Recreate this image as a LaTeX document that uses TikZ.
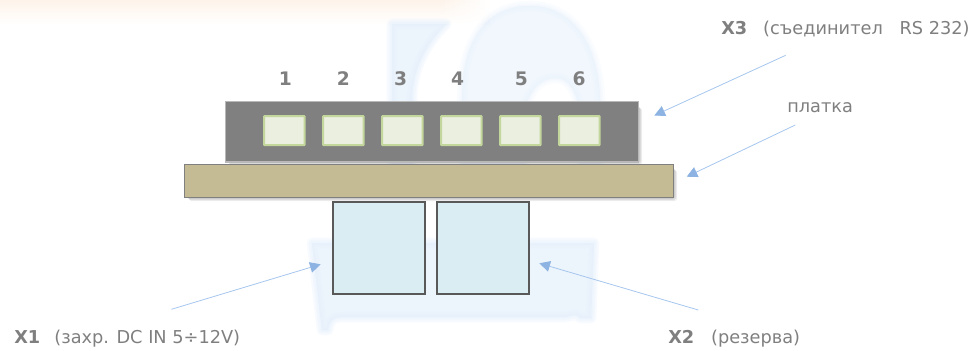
\documentclass[tikz,border=0pt]{standalone}
\usepackage{fontspec}
\setmainfont{DejaVu Sans}
\usetikzlibrary{arrows.meta,calc}
\definecolor{txt}{HTML}{7F7F7F}
\definecolor{pale}{HTML}{E6F0FB}
\definecolor{peach}{HTML}{FDF3EA}
\definecolor{arrowc}{HTML}{A6C6EE}
\definecolor{arrowh}{HTML}{8DB3E2}
\definecolor{pinb}{HTML}{C3D69B}
\definecolor{pinf}{HTML}{EBEFE0}
\definecolor{connb}{HTML}{595959}
\definecolor{connf}{HTML}{DAEDF3}
\definecolor{boardc}{HTML}{C4BB94}
\tikzset{
  x=0.75pt,y=-0.75pt,
  lbl/.style={font=\fontsize{13.3pt}{16pt}\selectfont,text=txt,inner sep=0pt,anchor=base west},
  num/.style={font=\bfseries\fontsize{14pt}{16pt}\selectfont,text=txt,inner sep=0pt,anchor=base},
  arrowline/.style={draw=arrowc,line width=0.6pt,-{Triangle[length=8pt,width=8pt,fill=arrowh,color=arrowh]}},
  wm/.style={fill=pale,draw=pale,opacity=0.3,line join=round},
  pin/.style={draw=pinb,fill=pinf,line width=1.6pt,minimum width=30.4pt,minimum height=21.8pt,inner sep=0pt,rounded corners=0.5pt,anchor=north west},
  conn/.style={draw=connb,fill=connf,line width=1.6pt,minimum width=69pt,minimum height=69pt,inner sep=0pt,anchor=north west},
  softshadow/.style={fill=black,opacity=0.07,draw=none,rounded corners=2pt},
}
\begin{document}
\begin{tikzpicture}
\useasboundingbox (0,0) rectangle (978,350);
% faint background
\shade[top color=peach,bottom color=white] (0,0) rectangle (440,24);
\foreach \i in {0,...,9}{
  \pgfmathtruncatemacro{\pc}{100-10*\i}
  \shade[top color=peach!\pc!white,bottom color=white] (440+5*\i,0) rectangle (445+5*\i,24);
}
\foreach \w in {8pt,5pt,2.5pt,0pt}{
  \path[wm,line width=\w] (392,24) -- (446,24) .. controls (425,45) and (412,70) .. (412,100) -- (412,165) -- (392,165) -- cycle;
  \path[wm,line width=\w,opacity=0.18] (462,100) .. controls (462,35) and (490,6) .. (530,6) .. controls (570,6) and (598,40) .. (600,100) -- (600,165) -- (580,165) -- (580,110) .. controls (575,88) and (568,78) .. (555,78) .. controls (545,78) and (530,85) .. (525,110) -- (525,165) -- (462,165) -- cycle;
  \path[wm,line width=\w] (312,243) -- (594,243) -- (591,318) -- (580,318) .. controls (576,312) and (570,317) .. (565,317) -- (345,317) .. controls (335,317) and (330,318) .. (328,330) -- (322,330) -- cycle;
}
% shadows
\foreach \d in {1,2,3,4}{
  \fill[softshadow] ($(225,104)+(\d,\d)$) rectangle ($(638,161)+(\d,\d)$);
  \fill[softshadow] ($(186,166)+(\d-1,\d)$) rectangle ($(673,197)+(\d,\d)$);
}
% strip and board
\node[fill=black!50,line width=1pt,minimum width=310pt,minimum height=45.4pt,inner sep=0pt,anchor=north west,draw=black!28] (strip) at (224.7,100.7) {};
\node[draw=black!50,fill=boardc,line width=1pt,minimum width=366.8pt,minimum height=24.5pt,inner sep=0pt,anchor=north west] (board) at (184,164) {};
% pins
\foreach \n/\x in {1/263,2/322,3/381,4/440,5/499,6/558}{
  \node[pin] (p\n) at (\x,115) {};
}
\foreach \n/\x in {1/285.3,2/343.3,3/400.5,4/457.7,5/521.3,6/579}{
  \node[num] (t\n) at (\x,85.5) {\n};
}
% connectors
\node[conn] (x1) at (332.3,200.6) {};
\node[conn] (x2) at (436,200.6) {};
% labels
\node[lbl] (lx3) at (721,34.3) {\textbf{X3}\hspace{0.9em}(съединител\hspace{0.95em}RS 232)};
\node[lbl] (lpl) at (787,112.3) {платка};
\node[lbl] (lx1) at (14,343.5) {\textbf{X1}\hspace{0.8em}(захр. DC IN 5÷12V)};
\node[lbl] (lx2) at (668,343.5) {\textbf{X2}\hspace{0.95em}(резерва)};
% arrows
\coordinate (a3s) at (785.7,55.3); \coordinate (a3e) at (654.3,115.5);
\coordinate (aps) at (795.3,125);  \coordinate (ape) at (686.7,176.7);
\coordinate (a1s) at (171.4,309.3);\coordinate (a1e) at (320.7,264.3);
\coordinate (a2s) at (698.3,310);  \coordinate (a2e) at (539.3,263.3);
\draw[arrowline] (a3s) -- (a3e);
\draw[arrowline] (aps) -- (ape);
\draw[arrowline] (a1s) -- (a1e);
\draw[arrowline] (a2s) -- (a2e);
\end{tikzpicture}
\end{document}
